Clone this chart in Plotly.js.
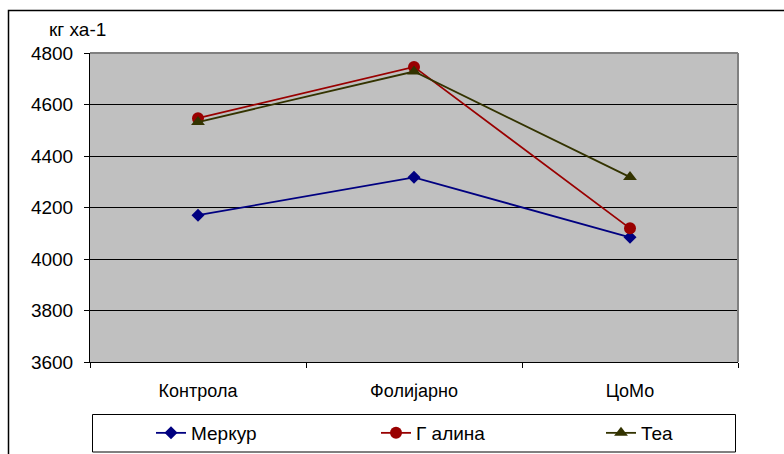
<!DOCTYPE html>
<html>
<head>
<meta charset="utf-8">
<script src="https://cdn.plot.ly/plotly-3.0.1.min.js"></script>
<style>html,body{margin:0;padding:0;background:#fff;}#chart{width:784px;height:454px;}</style>
</head>
<body>
<div id="chart"></div>
<script>
// Data
const categories = ["Контрола", "Фолијарно", "ЦоМо"];
const merkur = [4170, 4317, 4084];
const galina = [4547, 4746, 4119];
const tea = [4532, 4728, 4318];
const seriesNames = ["Меркур", "Г алина", "Теа"];
const yTicks = [3600, 3800, 4000, 4200, 4400, 4600, 4800];
const yTitle = "кг ха-1";

// layout geometry helpers (pixels -> paper)
const W = 784, H = 454;
const L = 90, R = 46, T = 53, B = 92;
const PW = W - L - R, PH = H - T - B;
const px = x => (x - L) / PW;
const py = y => (H - B - y) / PH;

const font = {family: "Arial, 'Liberation Sans', sans-serif", size: 19, color: "#000"};
const xfont = {family: "Arial, 'Liberation Sans', sans-serif", size: 18, color: "#000"};

const traces = [
  {x: categories, y: merkur, name: seriesNames[0], type: "scatter", mode: "lines+markers", legend: "legend",
   line: {color: "#000080", width: 1.8}, marker: {symbol: "diamond", size: 10, color: "#000080"}},
  {x: categories, y: galina, name: seriesNames[1], type: "scatter", mode: "lines+markers", legend: "legend2",
   line: {color: "#990000", width: 1.8}, marker: {symbol: "circle", size: 12, color: "#990000"}},
  {x: categories, y: tea, name: seriesNames[2], type: "scatter", mode: "lines+markers", legend: "legend3",
   line: {color: "#333300", width: 1.8}, marker: {symbol: "triangle-up", size: 12, color: "#333300"}}
];

const legendBase = (xpx) => ({
  orientation: "h", x: px(xpx), xanchor: "left", y: py(433), yanchor: "middle",
  bgcolor: "rgba(0,0,0,0)", borderwidth: 0, font: font, itemwidth: 30
});

const layout = {
  width: W, height: H,
  margin: {l: L, r: R, t: T, b: B, pad: 0, autoexpand: false},
  paper_bgcolor: "#ffffff",
  plot_bgcolor: "#c0c0c0",
  font: font,
  showlegend: true,
  legend: legendBase(151),
  legend2: legendBase(376),
  legend3: legendBase(601),
  xaxis: {
    type: "category", range: [-0.5, 2.5], fixedrange: true,
    showline: true, linecolor: "#000", linewidth: 1,
    ticks: "outside", tickson: "boundaries", ticklen: 5, tickcolor: "#000",
    showgrid: false, zeroline: false, tickfont: xfont, ticklabelstandoff: 12
  },
  yaxis: {
    range: [3600, 4800], tickvals: yTicks, fixedrange: true,
    showline: true, linecolor: "#000", linewidth: 1,
    ticks: "outside", ticklen: 5, tickcolor: "#000",
    showgrid: true, gridcolor: "#000", gridwidth: 1, zeroline: false,
    tickfont: font, ticklabelstandoff: 7
  },
  shapes: [
    // outer chart frame
    {type: "rect", xref: "paper", yref: "paper", x0: px(8.5), x1: px(800), y0: py(470), y1: py(10.5),
     line: {color: "#000", width: 1.5}, fillcolor: "rgba(0,0,0,0)", layer: "below"},
    // plot area top/right border
    {type: "line", xref: "paper", yref: "paper", x0: 0, x1: 1, y0: 1, y1: 1, line: {color: "#808080", width: 2}},
    {type: "line", xref: "paper", yref: "paper", x0: 1, x1: 1, y0: 0, y1: 1, line: {color: "#808080", width: 2}},
    // legend box
    {type: "rect", xref: "paper", yref: "paper", x0: px(92.5), x1: px(735.5), y0: py(452), y1: py(414.5),
     line: {color: "#000", width: 1}, fillcolor: "rgba(0,0,0,0)"}
  ],
  annotations: [
    {text: yTitle, xref: "paper", yref: "paper", x: px(47), y: py(29), xanchor: "left", yanchor: "middle",
     showarrow: false, font: font}
  ]
};

Plotly.newPlot("chart", traces, layout, {displayModeBar: false, staticPlot: true});
</script>
</body>
</html>
